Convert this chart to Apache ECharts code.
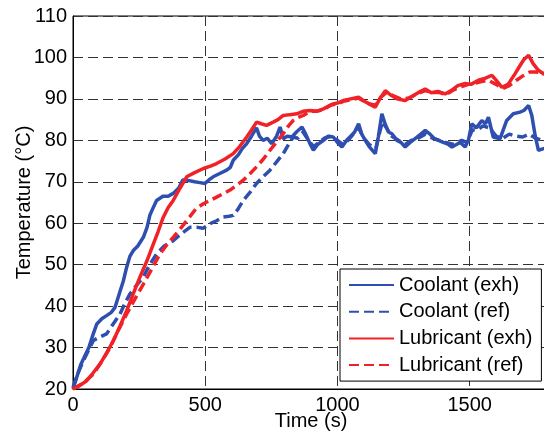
<!DOCTYPE html>
<html>
<head>
<meta charset="utf-8">
<script src="https://cdn.jsdelivr.net/npm/echarts@6/dist/echarts.min.js"></script>
<style>html,body{margin:0;padding:0;background:#fff}#c{width:544px;height:434px}</style>
</head>
<body>
<div id="c"></div>
<script>
var seriesNames = ['Coolant (exh)', 'Coolant (ref)', 'Lubricant (exh)', 'Lubricant (ref)'];
var yTicks = [20, 30, 40, 50, 60, 70, 80, 90, 100, 110];
var xTicks = [0, 500, 1000, 1500];

var coolantExhT = [0,15,30,45,60,75,90,110,127,145,159,175,190,203,215,228,245,266,280,291,305,316,340,360,379,400,415,430,460,480,499,515,530,555,581,595,606,625,640,657,675,694,705,719,735,751,770,783,795,810,828,845,866,880,896,909,925,947,965,984,1000,1017,1035,1050,1065,1080,1092,1105,1120,1143,1155,1168,1180,1193,1206,1225,1240,1256,1275,1295,1315,1332,1350,1365,1382,1400,1420,1433,1450,1465,1483,1495,1508,1525,1546,1560,1571,1589,1615,1640,1665,1690,1705,1723,1735,1748,1760,1780,1800];
var coolantExhV = [20,23,26,28,30,33,35.7,37,37.7,38.5,39.7,43,46,49.4,52,53.4,54.5,56.6,59,62,64,65.5,66.5,66.5,67.2,68.5,70.4,70.4,70,69.8,69.6,70.5,71.2,72,72.8,73.5,75.2,76.5,78,79.2,81,83,81,80,80.5,79.2,81,83.2,80.4,81,80.8,82,83.2,81.5,79.2,77.6,79,80,81,80.8,79.5,78.4,80,81,82,84,81.5,80,78.5,76.8,81,86.4,84,82,81.6,80,79.5,78.4,79.5,80.5,81.5,82.4,81.5,80.5,80,79.5,79,78.4,79,79.5,78.4,80,84,83,84.8,84,85.6,80.8,80.4,84.8,86.4,86.8,87.2,88.4,86,81,77.6,78,78];

var coolantRefT = [0,20,39,60,77,100,127,150,178,195,215,240,266,290,316,345,379,410,442,470,493,515,543,568,590,606,625,644,670,694,720,745,770,795,815,833,850,870,890,910,930,950,975,1000,1020,1040,1060,1080,1100,1120,1145,1160,1170,1185,1206,1230,1256,1280,1305,1332,1360,1385,1410,1440,1470,1490,1510,1530,1550,1575,1600,1625,1650,1675,1700,1725,1750,1775,1800];
var coolantRefV = [20.4,24,26.8,29.5,31.7,32.5,33.3,35.5,38.1,40.5,42.9,45,47,50,52.6,54.5,55.8,57.5,59,59,58.8,59.8,60.6,61.5,61.7,61.9,63.5,65.5,67.5,69.6,71.3,72.8,74.8,76.8,79,80.8,80.5,82,80,78.5,79.5,80.5,81,80,79,80,81.5,83,80.5,79,78,82,84.5,83,81,80,79,80,80.5,81.5,80.5,80,79.5,79,80,79.5,82.5,82.5,83.5,83,81,80.5,81.5,81,80.8,81.5,80.5,80,80];

var lubExhT = [0,25,52,75,102,128,153,178,203,228,253,280,304,322,341,360,379,405,430,460,493,520,543,575,606,630,657,675,694,712,732,757,775,795,820,846,870,896,920,947,965,984,1000,1022,1050,1080,1100,1120,1143,1160,1181,1200,1225,1256,1280,1305,1332,1355,1380,1407,1430,1455,1483,1505,1533,1560,1584,1600,1622,1645,1672,1690,1705,1723,1740,1760,1780,1800];
var lubExhV = [20,20.8,22,23.8,26,28.8,31.7,35.2,38.9,43,47,51,55,58,61.4,63.8,65.5,68.5,71.2,72.2,73.2,73.8,74.4,75.5,76.8,78.5,80.8,82.5,84.4,84,83.6,84.4,85,86,86.2,86.4,87,87.2,87,87.6,88.2,88.8,89,89.6,90,90.4,89.5,88.8,88,90,92,91,90,89.6,90.5,91.5,92.4,91.5,91.8,91.2,92,93.2,93.7,93.5,94.5,95,95.7,94.5,92.8,93.5,96.1,98,99.5,100.5,98.5,96.9,96,96];

var lubRefT = [0,40,77,110,140,170,203,235,266,298,329,355,379,410,442,465,493,518,543,570,594,620,644,670,694,720,745,770,795,815,833,850,871,896,920,947,975,1000,1022,1050,1080,1110,1143,1165,1185,1210,1240,1270,1300,1332,1360,1385,1410,1440,1470,1495,1520,1545,1570,1600,1625,1650,1677,1700,1728,1750,1775,1800];
var lubRefV = [20,21.5,23.6,26.8,30,34,38.1,41.8,45.3,49,52.6,54.8,56.6,59,61.6,63.5,64.7,65.5,66.3,67.2,68,69.2,70.4,72,73.6,75.5,77.6,79.6,81.6,83.5,84.8,85.5,86,87,87,87.4,88.5,88.8,89.4,89.8,90.2,89,88.5,90.5,91.5,90.8,90,90.2,91.2,92,91.5,91.6,91,92.2,93,93.5,93.8,94.2,94.5,93.5,92.5,93.2,94.5,95.5,96.5,96.5,96.3,96];

function pairs(t, v) { return t.map(function (x, i) { return [x, v[i]]; }); }

var BLUE = '#2f4fb0';
var RED = '#f02228';
var FONT = 'Liberation Sans, Arial, sans-serif';

function mk(name, t, v, color, dashed) {
  return {
    name: name, type: 'line', data: pairs(t, v), symbol: 'none', showSymbol: false,
    smooth: false, animation: false,
    lineStyle: { color: color, width: 3.5, type: dashed ? [10, 5] : 'solid' },
    itemStyle: { color: color }
  };
}

var chart = echarts.init(document.getElementById('c'), null, { renderer: 'canvas' });
chart.setOption({
  animation: false,
  backgroundColor: '#fff',
  grid: { left: 73, top: 16, width: 476, bottom: 45, show: true, borderColor: '#000', borderWidth: 1,
    containLabel: false, outerBoundsMode: 'none' },
  xAxis: {
    type: 'value', min: 0, max: 1800, interval: 500,
    name: 'Time (s)', nameLocation: 'middle', nameGap: 22, nameMoveOverlap: false,
    nameTextStyle: { color: '#000', fontSize: 20, fontFamily: FONT },
    axisLine: { show: true, lineStyle: { color: '#000', width: 1 } },
    axisTick: { show: false },
    axisLabel: { color: '#000', fontSize: 20, fontFamily: FONT, margin: 6,
      formatter: function (v) { return xTicks.indexOf(v) >= 0 ? String(v) : ''; } },
    splitLine: { show: true, lineStyle: { color: '#333', width: 1, type: [10, 5] } }
  },
  yAxis: {
    type: 'value', min: 20, max: 110, interval: 10,
    name: 'Temperature (°C)', nameLocation: 'middle', nameGap: 39, nameRotate: 90, nameMoveOverlap: false,
    nameTextStyle: { color: '#000', fontSize: 20, fontFamily: FONT },
    axisLine: { show: true, lineStyle: { color: '#000', width: 1 } },
    axisTick: { show: false },
    axisLabel: { color: '#000', fontSize: 20, fontFamily: FONT, margin: 6,
      formatter: function (v) { return yTicks.indexOf(v) >= 0 ? String(v) : ''; } },
    splitLine: { show: true, lineStyle: { color: '#333', width: 1, type: [10, 5] } }
  },
  legend: {
    show: true, orient: 'vertical', left: 340, top: 269,
    data: seriesNames,
    itemWidth: 45, itemHeight: 14, itemGap: 6.7,
    padding: [6, 9, 6, 8],
    backgroundColor: '#fff', borderColor: '#000', borderWidth: 1,
    itemStyle: { opacity: 0 },
    textStyle: { color: '#000', fontSize: 20, fontFamily: FONT }
  },
  series: [
    mk(seriesNames[0], coolantExhT, coolantExhV, BLUE, false),
    mk(seriesNames[1], coolantRefT, coolantRefV, BLUE, true),
    mk(seriesNames[2], lubExhT, lubExhV, RED, false),
    mk(seriesNames[3], lubRefT, lubRefV, RED, true)
  ]
});
</script>
</body>
</html>
